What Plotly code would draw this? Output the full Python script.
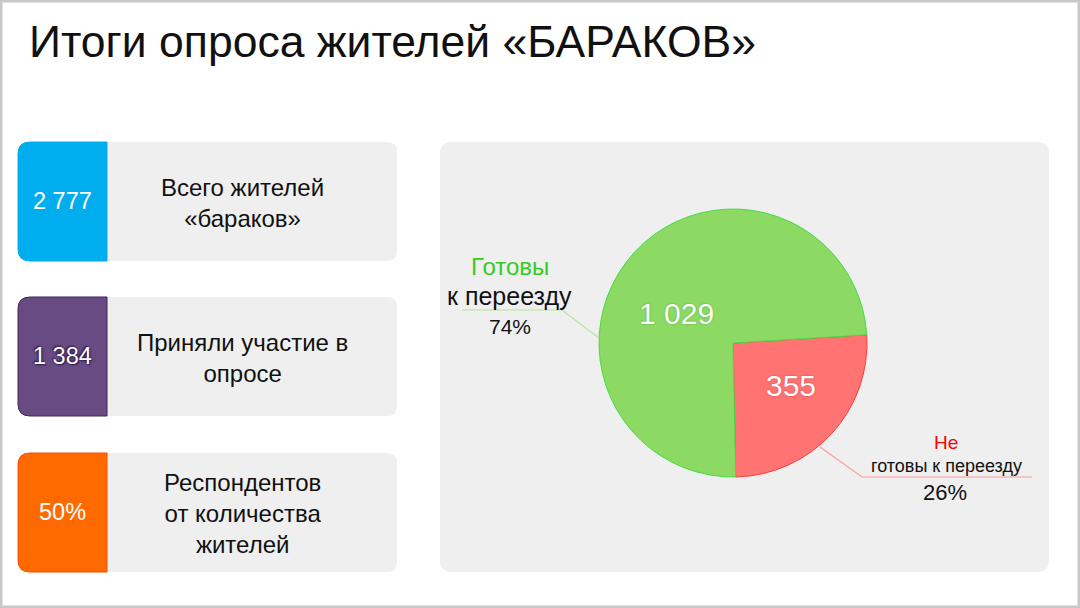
import plotly.graph_objects as go

# ---- data ----
total_residents = 2777
participants = 1384
pie_labels = ["Не готовы к переезду", "Готовы к переезду"]
pie_values = [355, 1029]
pie_colors = ["#FF7373", "#8CD964"]
pie_line_colors = ["#FF3B3B", "#44DD44"]

card_values = ["2 777", "1 384", "50%"]
card_texts = ["Всего жителей<br>«бараков»", "Приняли участие в<br>опросе", "Респондентов<br>от количества<br>жителей"]
card_colors = ["#00AEEF", "#694B84", "#FF6A00"]
card_borders = ["#00AEEF", "#3E2556", "#FF4A00"]

title = "Итоги опроса жителей «БАРАКОВ»"

W, H = 1080, 608
FONT = "Liberation Sans, Arial, sans-serif"


def rrect(x0, y0, x1, y1, r, tl=True, tr=True, br=True, bl=True):
    p = []
    p.append(f"M {x0 + (r if tl else 0)},{y0}")
    if tr:
        p.append(f"L {x1 - r},{y0} Q {x1},{y0} {x1},{y0 + r}")
    else:
        p.append(f"L {x1},{y0}")
    if br:
        p.append(f"L {x1},{y1 - r} Q {x1},{y1} {x1 - r},{y1}")
    else:
        p.append(f"L {x1},{y1}")
    if bl:
        p.append(f"L {x0 + r},{y1} Q {x0},{y1} {x0},{y1 - r}")
    else:
        p.append(f"L {x0},{y1}")
    if tl:
        p.append(f"L {x0},{y0 + r} Q {x0},{y0} {x0 + r},{y0}")
    else:
        p.append(f"L {x0},{y0}")
    p.append("Z")
    return " ".join(p)


shapes = []
annotations = []

# frame
shapes.append(dict(type="rect", x0=1, y0=1, x1=W - 1, y1=H - 1,
                   line=dict(color="#C8C8C8", width=3), fillcolor="white", layer="below"))

# right panel
shapes.append(dict(type="path", path=rrect(440, 142, 1049, 572, 12),
                   fillcolor="#EFEFEF", line=dict(width=0), layer="below"))

# cards
card_tops = [142, 297, 453]
card_h = 119
for i, top in enumerate(card_tops):
    bot = top + card_h
    shapes.append(dict(type="path", path=rrect(107, top, 397, bot, 10, tl=False, bl=False),
                       fillcolor="#EFEFEF", line=dict(width=0), layer="below"))
    shapes.append(dict(type="path", path=rrect(18, top, 107, bot, 12, tr=False, br=False),
                       fillcolor=card_colors[i], line=dict(color=card_borders[i], width=1), layer="below"))
    cy = top + card_h / 2
    shadow = "1px 1px 2px #2a1240, -1px -1px 2px #2a1240" if i == 1 else "none"
    annotations.append(dict(x=62, y=cy - 1, xref="x", yref="y", text=card_values[i], showarrow=False,
                            font=dict(family=FONT, size=23.5, color="white", shadow=shadow),
                            xanchor="center", yanchor="middle"))
    annotations.append(dict(x=242, y=cy + 1, xref="x", yref="y", text=card_texts[i], showarrow=False,
                            font=dict(family=FONT, size=24, color="#111111"),
                            xanchor="center", yanchor="middle", align="center"))

# title
annotations.append(dict(x=27, y=41, xref="x", yref="y", text=title, showarrow=False,
                        font=dict(family=FONT, size=44.5, color="#111111"),
                        xanchor="left", yanchor="middle"))

# pie external labels
pct = [round(v * 100 / sum(pie_values)) for v in pie_values]
annotations.append(dict(x=510, y=266, xref="x", yref="y", text="Готовы", showarrow=False,
                        font=dict(family=FONT, size=24, color="#33CC22"), xanchor="center", yanchor="middle"))
annotations.append(dict(x=509, y=296, xref="x", yref="y", text="к переезду", showarrow=False,
                        font=dict(family=FONT, size=25, color="#111111", weight=500), xanchor="center", yanchor="middle"))
annotations.append(dict(x=510, y=326, xref="x", yref="y", text=f"{pct[1]}%", showarrow=False,
                        font=dict(family=FONT, size=21, color="#111111"), xanchor="center", yanchor="middle"))
shapes.append(dict(type="path", path="M 462,310 L 562,310 L 599,338",
                   line=dict(color="#B5E59A", width=1.2)))

annotations.append(dict(x=946, y=442, xref="x", yref="y", text="Не", showarrow=False,
                        font=dict(family=FONT, size=19, color="#FF0000"), xanchor="center", yanchor="middle"))
annotations.append(dict(x=946, y=466, xref="x", yref="y", text="готовы к переезду", showarrow=False,
                        font=dict(family=FONT, size=18, color="#111111"), xanchor="center", yanchor="middle"))
annotations.append(dict(x=945, y=492, xref="x", yref="y", text=f"{pct[0]}%", showarrow=False,
                        font=dict(family=FONT, size=22, color="#111111"), xanchor="center", yanchor="middle"))
shapes.append(dict(type="path", path="M 820,447 L 862,477 L 1032,477",
                   line=dict(color="#FF9A9A", width=1.2)))

# pie
cx, cy, r = 733, 343, 134
pie = go.Pie(
    labels=pie_labels, values=pie_values, sort=False, direction="clockwise", rotation=86.5,
    marker=dict(colors=pie_colors, line=dict(color=pie_line_colors, width=1)),
    textinfo="none", hoverinfo="label+value", showlegend=False,
    domain=dict(x=[(cx - r) / W, (cx + r) / W], y=[(H - cy - r) / H, (H - cy + r) / H]),
)

# in-slice value labels
inner_pos = [(791, 385), (676, 313)]
inner_shadow = ["0px 0px 2px #D84848", "0px 0px 2px #4FAF2F"]
for v, (tx, ty), sh in zip(pie_values, inner_pos, inner_shadow):
    annotations.append(dict(x=tx, y=ty, xref="x", yref="y", text=f"{v:,}".replace(",", " "),
                            showarrow=False, xanchor="center", yanchor="middle",
                            font=dict(family=FONT, size=30, color="white", shadow=sh)))

fig = go.Figure(pie)
fig.update_layout(
    width=W, height=H, margin=dict(l=0, r=0, t=0, b=0),
    paper_bgcolor="white", plot_bgcolor="rgba(0,0,0,0)",
    xaxis=dict(range=[0, W], visible=False, fixedrange=True, domain=[0, 1]),
    yaxis=dict(range=[H, 0], visible=False, fixedrange=True, domain=[0, 1]),
    shapes=shapes, annotations=annotations, showlegend=False,
)
fig.write_html("out.html")
